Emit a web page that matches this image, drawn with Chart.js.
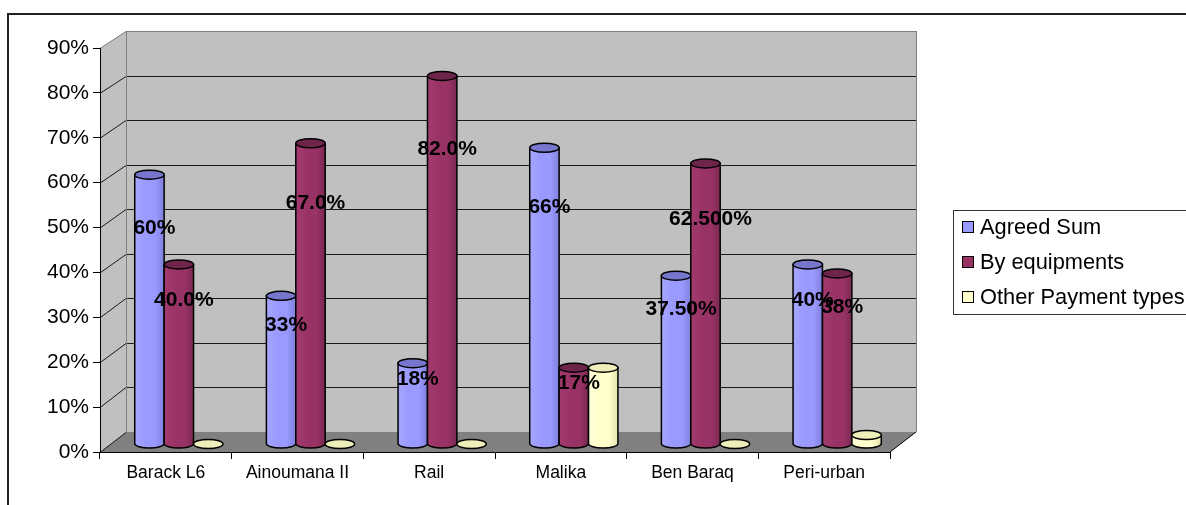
<!DOCTYPE html>
<html>
<head>
<meta charset="utf-8">
<script src="https://cdn.jsdelivr.net/npm/chart.js@4.4.0/dist/chart.umd.min.js"></script>
<style>
  body { margin: 0; background: #fff; }
  #wrap { width: 1186px; height: 505px; }
</style>
</head>
<body>
<div id="wrap"><canvas id="paymentChart" width="1186" height="505"></canvas></div>
<script>
// Sites and payment shares (%)
const sites = ['Barack L6', 'Ainoumana II', 'Rail', 'Malika', 'Ben Baraq', 'Peri-urban'];
const agreedSum = [60, 33, 18, 66, 37.5, 40];
const byEquipments = [40, 67, 82, 17, 62.5, 38];
const otherTypes = [0, 0, 0, 17, 0, 2];
// decimals shown in each value label
const agreedDecimals = [0, 0, 0, 0, 2, 0];
const equipDecimals = [1, 1, 1, 0, 3, 0];
const yMax = 90;
const yStep = 10;

const FONT = "'Liberation Sans', Arial, sans-serif";
// depth of the 3D box
const DX = 26, DY_TOP = 17, DY_BOTTOM = 20;

const palette = [
    { base: '#9999ff', light: '#a6a6ff', dark: '#8080dd', top: '#7676cc' },
    { base: '#993366', light: '#a33a6e', dark: '#7a2952', top: '#6e2549' },
    { base: '#ffffcc', light: '#ffffd8', dark: '#e2e2ac', top: '#eeeebb' }
];

function toBack(x, y, a) {
    const k = (y - a.top) / (a.bottom - a.top);
    return [x + DX, y - DY_TOP - (DY_BOTTOM - DY_TOP) * k];
}

const wallsPlugin = {
    id: 'walls',
    beforeDraw(chart) {
        const { ctx, chartArea: a, scales: { y } } = chart;
        ctx.save();
        // outer frame
        ctx.strokeStyle = '#222';
        ctx.lineWidth = 2;
        ctx.beginPath();
        ctx.moveTo(8, 505); ctx.lineTo(8, 14); ctx.lineTo(1186, 14);
        ctx.stroke();

        const [bl, bt] = toBack(a.left, a.top, a);
        const [, bb] = toBack(a.left, a.bottom, a);
        const br = a.right + DX;

        // back + side wall
        ctx.fillStyle = '#c0c0c0';
        ctx.fillRect(bl, bt, br - bl, bb - bt);
        ctx.beginPath();
        ctx.moveTo(a.left, a.top); ctx.lineTo(bl, bt); ctx.lineTo(bl, bb); ctx.lineTo(a.left, a.bottom);
        ctx.closePath(); ctx.fill();
        // floor
        ctx.fillStyle = '#808080';
        ctx.beginPath();
        ctx.moveTo(a.left, a.bottom); ctx.lineTo(bl, bb); ctx.lineTo(br, bb); ctx.lineTo(a.right, a.bottom);
        ctx.closePath(); ctx.fill();

        // gridlines
        ctx.lineWidth = 1;
        y.ticks.forEach(t => {
            const py = y.getPixelForValue(t.value);
            const [bx, by] = toBack(a.left, py, a);
            ctx.strokeStyle = t.value === yMax ? '#808080' : '#1a1a1a';
            ctx.beginPath();
            ctx.moveTo(a.left, py + 0.5);
            ctx.lineTo(bx, Math.round(by) + 0.5);
            if (t.value !== 0) ctx.lineTo(br, Math.round(by) + 0.5);
            ctx.stroke();
        });
        // wall edges
        ctx.strokeStyle = '#808080';
        ctx.beginPath();
        ctx.moveTo(Math.round(bl) + 0.5, bb); ctx.lineTo(Math.round(bl) + 0.5, bt);
        ctx.moveTo(Math.round(br) + 0.5, bt); ctx.lineTo(Math.round(br) + 0.5, bb);
        ctx.stroke();
        ctx.strokeStyle = '#000';
        ctx.beginPath();
        ctx.moveTo(a.right, a.bottom); ctx.lineTo(br, bb);
        ctx.stroke();
        ctx.restore();
    }
};

function cylinder(ctx, cx, top, bottom, rx, ry, c) {
    const g = ctx.createLinearGradient(cx - rx, 0, cx + rx, 0);
    g.addColorStop(0, c.light);
    g.addColorStop(0.4, c.base);
    g.addColorStop(0.7, c.base);
    g.addColorStop(1, c.dark);
    ctx.fillStyle = g;
    ctx.strokeStyle = '#000';
    ctx.lineWidth = 1.5;
    if (bottom - top > 0.5) {
        ctx.beginPath();
        ctx.moveTo(cx - rx, top);
        ctx.lineTo(cx - rx, bottom);
        ctx.ellipse(cx, bottom, rx, ry, 0, Math.PI, 0, true);
        ctx.lineTo(cx + rx, top);
        ctx.closePath();
        ctx.fill();
        ctx.stroke();
    }
    ctx.fillStyle = c.top;
    ctx.beginPath();
    ctx.ellipse(cx, top, rx, ry, 0, 0, Math.PI * 2);
    ctx.fill();
    ctx.stroke();
}

const cylinderPlugin = {
    id: 'cylinders',
    beforeDatasetsDraw(chart) {
        const { ctx } = chart;
        const shiftX = DX / 2, shiftY = -8;
        ctx.save();
        const metas = chart.data.datasets.map((d, i) => chart.getDatasetMeta(i));
        sites.forEach((s, j) => {
            metas.forEach((m, i) => {
                const bar = m.data[j];
                cylinder(ctx, bar.x + shiftX, bar.y + shiftY, bar.base + shiftY,
                    bar.width / 2, 4.5, palette[i]);
            });
        });
        // value labels for the first two series
        ctx.fillStyle = '#000';
        ctx.font = 'bold 21px ' + FONT;
        ctx.textAlign = 'center';
        ctx.textBaseline = 'middle';
        [agreedDecimals, equipDecimals].forEach((dec, i) => {
            const ds = chart.data.datasets[i];
            metas[i].data.forEach((bar, j) => {
                const ly = bar.base + (bar.y - bar.base) * 0.8 + shiftY;
                ctx.fillText(ds.data[j].toFixed(dec[j]) + '%', bar.x + shiftX + 5, ly);
            });
        });
        ctx.restore();
        return false;
    },
    afterDraw(chart) {
        const { ctx } = chart;
        ctx.save();
        ctx.fillStyle = '#fff';
        ctx.strokeStyle = '#333';
        ctx.lineWidth = 1;
        ctx.fillRect(953.5, 210.5, 240, 104);
        ctx.strokeRect(953.5, 210.5, 240, 104);
        ctx.font = '21.8px ' + FONT;
        ctx.textBaseline = 'middle';
        ctx.textAlign = 'left';
        chart.data.datasets.forEach((ds, i) => {
            const cy = 227 + i * 35;
            ctx.fillStyle = palette[i].base;
            ctx.fillRect(962.5, cy - 5.5, 11, 11);
            ctx.strokeStyle = '#000';
            ctx.strokeRect(962.5, cy - 5.5, 11, 11);
            ctx.fillStyle = '#000';
            ctx.fillText(ds.label, 980, cy + 1);
        });
        ctx.restore();
    }
};

new Chart(document.getElementById('paymentChart'), {
    type: 'bar',
    data: {
        labels: sites,
        datasets: [
            { label: 'Agreed Sum', data: agreedSum, backgroundColor: palette[0].base },
            { label: 'By equipments', data: byEquipments, backgroundColor: palette[1].base },
            { label: 'Other Payment types', data: otherTypes, backgroundColor: palette[2].base }
        ]
    },
    options: {
        responsive: false,
        animation: false,
        layout: { padding: { left: 0, right: 296, top: 48, bottom: 0 } },
        datasets: { bar: { categoryPercentage: 0.67, barPercentage: 1.0 } },
        plugins: {
            legend: { display: false },
            tooltip: { enabled: false }
        },
        scales: {
            x: {
                afterFit: s => { s.height = 53; },
                grid: { drawOnChartArea: false, tickLength: 7, color: '#000' },
                border: { color: '#000' },
                ticks: { color: '#000', font: { family: FONT, size: 17.5 }, padding: 4, maxRotation: 0 }
            },
            y: {
                min: 0,
                max: yMax,
                afterFit: s => { s.width = 100; },
                grid: { drawOnChartArea: false, tickLength: 7, color: '#000' },
                border: { color: '#000' },
                ticks: {
                    stepSize: yStep,
                    color: '#000',
                    padding: 4,
                    font: { family: FONT, size: 21 },
                    callback: v => v + '%'
                }
            }
        }
    },
    plugins: [wallsPlugin, cylinderPlugin]
});
</script>
</body>
</html>
